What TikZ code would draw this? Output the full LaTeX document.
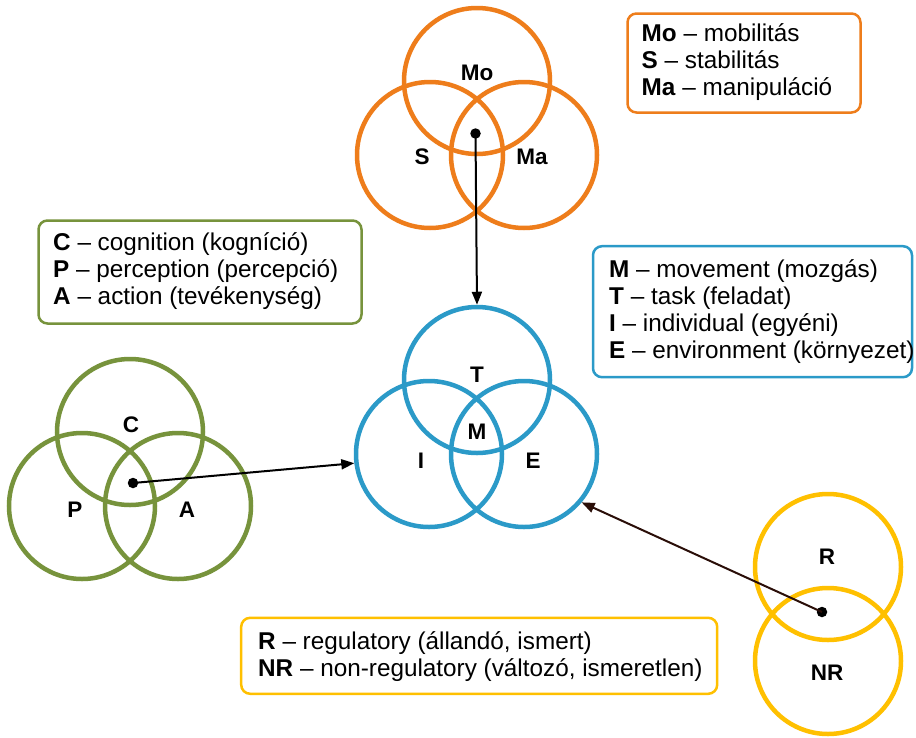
\documentclass[tikz,border=0pt]{standalone}
\usepackage{fontspec}
\setmainfont{Liberation Sans}
\usetikzlibrary{arrows.meta}
\definecolor{corange}{HTML}{EE7D1B}
\definecolor{cblue}{HTML}{2B9AC8}
\definecolor{cgreen}{HTML}{77933C}
\definecolor{cyellow}{HTML}{FFC000}
\definecolor{carrow}{HTML}{2A0E08}
\begin{document}
\begin{tikzpicture}[x=1pt,y=-1pt,
  ring/.style={circle, draw=#1, line width=4.5pt, minimum size=146pt, inner sep=0pt},
  lbl/.style={inner sep=0pt, font=\fontsize{22.5}{22.5}\selectfont\bfseries},
  dot/.style={circle, fill=black, minimum size=10.5pt, inner sep=0pt},
  legend/.style={draw=#1, line width=2.5pt, rounded corners=9pt, inner sep=0pt},
  legtext/.style={anchor=west, align=left, inner sep=0pt, font=\fontsize{24.3}{27}\selectfont},
  conn/.style={line width=2pt, draw=#1, -{Triangle[length=13pt,width=10pt]}}]
\useasboundingbox (0,0) rectangle (916,737);
\fill[white] (0,0) rectangle (916,737);

% orange circles
\node[ring=corange] (Mo) at (477,81) {};
\node[ring=corange] (S)  at (430,155) {};
\node[ring=corange] (Ma) at (524,155) {};
\node[lbl] (lMo) at (477,73) {Mo};
\node[lbl] (lS)  at (422,157) {S};
\node[lbl] (lMa) at (532,157) {Ma};
\node[dot] (oDot) at (475.5,133.5) {};

% blue circles
\node[ring=cblue] (T) at (477,380) {};
\node[ring=cblue] (I) at (429,454) {};
\node[ring=cblue] (E) at (524,454) {};
\node[lbl] (lT) at (477,375) {T};
\node[lbl] (lM) at (477,432) {M};
\node[lbl] (lI) at (421,461) {I};
\node[lbl] (lE) at (533,461) {E};

% green circles
\node[ring=cgreen] (C) at (130,432) {};
\node[ring=cgreen] (P) at (82,506) {};
\node[ring=cgreen] (A) at (178,506) {};
\node[lbl] (lC) at (131,425) {C};
\node[lbl] (lP) at (75,510) {P};
\node[lbl] (lA) at (187,510) {A};
\node[dot] (gDot) at (133,483) {};

% yellow circles
\node[ring=cyellow] (R)  at (828,567) {};
\node[ring=cyellow] (NR) at (828,661) {};
\node[lbl] (lR)  at (827,557) {R};
\node[lbl] (lNR) at (827,673) {NR};
\node[dot] (yDot) at (822,612) {};

% legends
\node[legend=corange, minimum width=233pt, minimum height=99pt] (boxO) at (744,63) {};
\node[legtext] (txtO) at (641.5,62) {\textbf{Mo} – mobilitás\\\textbf{S} – stabilitás\\\textbf{Ma} – manipuláció};

\node[legend=cgreen, minimum width=323pt, minimum height=103pt] (boxG) at (200,272) {};
\node[legtext] (txtG) at (53,271.5) {\textbf{C} – cognition (kogníció)\\\textbf{P} – perception (percepció)\\\textbf{A} – action (tevékenység)};

\node[legend=cblue, minimum width=319pt, minimum height=131pt] (boxB) at (752.5,311.7) {};
\node[legtext] (txtB) at (609,311.7) {\textbf{M} – movement (mozgás)\\\textbf{T} – task (feladat)\\\textbf{I} – individual (egyéni)\\\textbf{E} – environment (környezet)};

\node[legend=cyellow, minimum width=476pt, minimum height=76pt] (boxY) at (479.2,655.8) {};
\node[legtext] (txtY) at (258,656.7) {\textbf{R} – regulatory (állandó, ismert)\\\textbf{NR} – non-regulatory (változó, ismeretlen)};

% connectors
\draw[conn=black] (oDot.center) -- (T.90);
\draw[conn=black] (gDot.center) -- (I.187);
\draw[conn=carrow] (yDot.center) -- (E.-40);
\end{tikzpicture}
\end{document}
